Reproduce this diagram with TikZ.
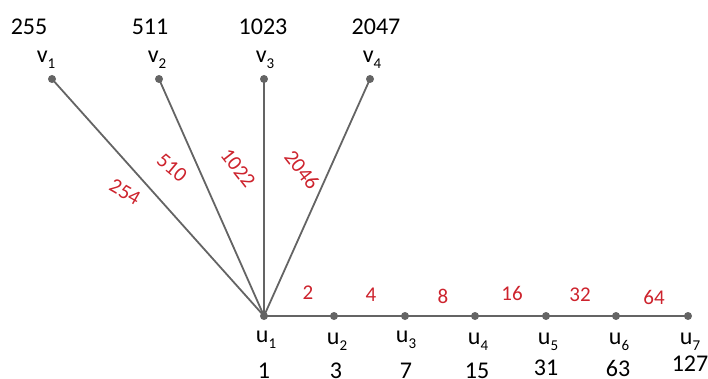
\documentclass[tikz,border=0pt]{standalone}
\usepackage{fontspec}
\setmainfont{Carlito}
\definecolor{edgegray}{RGB}{100,100,100}
\definecolor{lblred}{RGB}{205,35,45}
\newcommand{\sbx}[1]{\raisebox{-0.25em}{\fontsize{15}{16}\selectfont #1}}
\begin{document}
\begin{tikzpicture}[x=1pt,y=1pt,
  vtx/.style={circle,fill=edgegray,inner sep=0pt,minimum size=8pt},
  edge/.style={draw=edgegray,line width=1.8pt},
  nlab/.style={font=\fontsize{24}{26}\selectfont,text=black,inner sep=0pt},
  num/.style={font=\fontsize{24}{26}\selectfont,text=black,inner sep=0pt},
  wlab/.style={font=\fontsize{21}{23}\selectfont,text=lblred,inner sep=0pt}]
\useasboundingbox (0,0) rectangle (708,378);
% vertices
\node[vtx] (u1) at (264,62) {};
\node[vtx] (u2) at (334,62) {};
\node[vtx] (u3) at (405,62) {};
\node[vtx] (u4) at (475,62) {};
\node[vtx] (u5) at (546,62) {};
\node[vtx] (u6) at (616,62) {};
\node[vtx] (u7) at (688,62) {};
\node[vtx] (v1) at (52,299) {};
\node[vtx] (v2) at (159,299) {};
\node[vtx] (v3) at (264,299) {};
\node[vtx] (v4) at (370,299) {};
% edges
\path[edge] (u1.center) -- (v1.center);
\path[edge] (u1.center) -- (v2.center);
\path[edge] (u1.center) -- (v3.center);
\path[edge] (u1.center) -- (v4.center);
\path[edge] (u1.center) -- (u2.center) -- (u3.center) -- (u4.center) -- (u5.center) -- (u6.center) -- (u7.center);
% v labels
\node[nlab] (lv1) at (46,318) {v\sbx{1}};
\node[nlab] (lv2) at (157,318) {v\sbx{2}};
\node[nlab] (lv3) at (265,318) {v\sbx{3}};
\node[nlab] (lv4) at (372,318) {v\sbx{4}};
\node[num] (nv1) at (29,351) {255};
\node[num] (nv2) at (150,351) {511};
\node[num] (nv3) at (263,351) {1023};
\node[num] (nv4) at (376,351) {2047};
% u labels
\node[nlab] (lu1) at (266,38) {u\sbx{1}};
\node[nlab] (lu2) at (337,36) {u\sbx{2}};
\node[nlab] (lu3) at (406,38) {u\sbx{3}};
\node[nlab] (lu4) at (478,36) {u\sbx{4}};
\node[nlab] (lu5) at (548,36) {u\sbx{5}};
\node[nlab] (lu6) at (619,36) {u\sbx{6}};
\node[nlab] (lu7) at (690,36) {u\sbx{7}};
\node[num] (nu1) at (264,7) {1};
\node[num] (nu2) at (336,7) {3};
\node[num] (nu3) at (406,7) {7};
\node[num] (nu4) at (477,7) {15};
\node[num] (nu5) at (546,10) {31};
\node[num] (nu6) at (618,10) {63};
\node[num] (nu7) at (690,14) {127};
% edge weights
\node[wlab] (w2) at (308,85) {2};
\node[wlab] (w4) at (371,83) {4};
\node[wlab] (w8) at (443,82) {8};
\node[wlab] (w16) at (512,85) {16};
\node[wlab] (w32) at (580,83) {32};
\node[wlab] (w64) at (654,81) {64};
\node[wlab,rotate=-30] (w254) at (125,186) {254};
\node[wlab,rotate=-40] (w510) at (172,210) {510};
\node[wlab,rotate=-52] (w1022) at (238,210) {1022};
\node[wlab,rotate=-52] (w2046) at (302,208) {2046};
\end{tikzpicture}
\end{document}
